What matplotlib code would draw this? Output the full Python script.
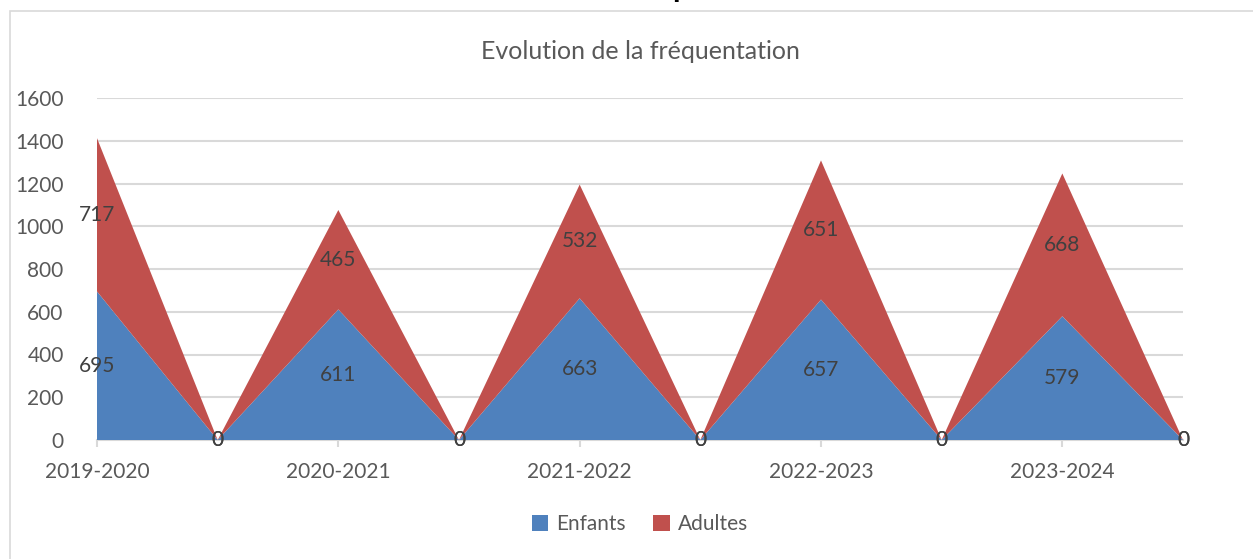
import matplotlib
matplotlib.use("Agg")
import matplotlib.pyplot as plt
from matplotlib.patches import Patch, Rectangle

# data
categories = ["2019-2020", "", "2020-2021", "", "2021-2022", "", "2022-2023", "", "2023-2024", ""]
enfants = [695, 0, 611, 0, 663, 0, 657, 0, 579, 0]
adultes = [717, 0, 465, 0, 532, 0, 651, 0, 668, 0]
yticks = [0, 200, 400, 600, 800, 1000, 1200, 1400, 1600]

blue = "#4F81BD"
red = "#C0504D"
grey_txt = "#595959"
grid_col = "#D9D9D9"

plt.rcParams['font.family'] = ['Lato', 'DejaVu Sans']

W, H = 1253, 559
fig = plt.figure(figsize=(W / 100, H / 100), dpi=100)
fig.patch.set_facecolor("white")

# chart frame (runs off the right / bottom edges)
fig.patches.append(Rectangle((10 / W, -0.1), 1.2, 1.1 - 11 / H, transform=fig.transFigure,
                             fill=False, edgecolor=grid_col, lw=1.2))
# cut off heading above the chart
fig.text(683 / W, 1 + 5 / H, "p", fontsize=30, color="black", ha="center", va="baseline")

ax = fig.add_axes([97 / W, 119 / H, (1183 - 97) / W, (461 - 119) / H])
x = list(range(len(categories)))
ax.stackplot(x, enfants, adultes, colors=[blue, red], zorder=2)

ax.set_xlim(0, len(categories) - 1)
ax.set_ylim(0, 1600)
ax.set_yticks(yticks)
ax.yaxis.grid(True, color=grid_col, lw=1.5, zorder=0)
ax.set_axisbelow(True)
for s in ["top", "right", "left"]:
    ax.spines[s].set_visible(False)
ax.spines["bottom"].set_color(grid_col)
ax.spines["bottom"].set_linewidth(1.5)
ax.spines["bottom"].set_zorder(1)

ax.set_xticks([i for i in x if categories[i]])
ax.set_xticklabels([c for c in categories if c])
ax.tick_params(axis="x", length=5, color=grid_col, width=1.5, pad=11, labelsize=15, labelcolor=grey_txt)
ax.tick_params(axis="y", length=0, pad=24, labelsize=15, labelcolor=grey_txt)

# data labels, centred in each band
for i in x:
    e = enfants[i]
    a = adultes[i]
    ax.text(i, e / 2, str(e), ha="center", va="center", fontsize=15, color="#404040", zorder=5)
    ax.text(i, e + a / 2, str(a), ha="center", va="center", fontsize=15, color="#404040", zorder=5)

ax.set_title("Evolution de la fréquentation", fontsize=18, color=grey_txt, pad=28)

handles = [Patch(facecolor=blue, label="Enfants"), Patch(facecolor=red, label="Adultes")]
fig.legend(handles=handles, loc="center", bbox_to_anchor=(640 / W, (559 - 524) / H), ncol=2,
           frameon=False, fontsize=15, labelcolor=grey_txt, handlelength=0.8, handleheight=0.8,
           handletextpad=0.4, columnspacing=1.3)

fig.savefig("out.png", dpi=100)
